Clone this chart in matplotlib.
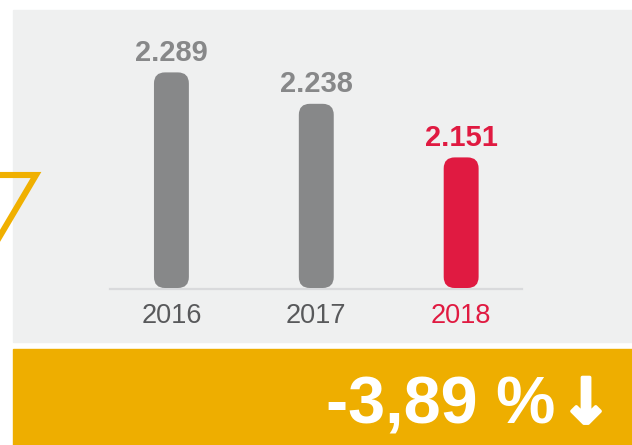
import matplotlib
matplotlib.use("Agg")
import numpy as np
import matplotlib.pyplot as plt
import matplotlib.patheffects as pe
from matplotlib.patches import Rectangle, FancyBboxPatch
from matplotlib.lines import Line2D

plt.rcParams['font.family'] = ['Liberation Sans', 'DejaVu Sans']

# data
years = ['2016', '2017', '2018']
values = [2289, 2238, 2151]
value_labels = ['2.289', '2.238', '2.151']
change_label = '-3,89 %'

GREY = '#878889'
RED = '#e01a41'
YEAR_GREY = '#58595b'
PANEL = '#eff0f0'
GOLD = '#eeae00'

W, H = 632, 445
fig = plt.figure(figsize=(W / 100, H / 100), dpi=100)

def fx(px):
    return px / W

def fy(py):
    return 1 - py / H

# background panel and bottom band (behind the axes)
fig.patches.append(Rectangle((fx(13), fy(342)), fx(632) - fx(13), fy(10) - fy(342),
                             transform=fig.transFigure, color=PANEL, zorder=-2))
fig.patches.append(Rectangle((fx(13), fy(445)), fx(632) - fx(13), fy(349) - fy(445),
                             transform=fig.transFigure, color=GOLD, zorder=-2))

# yellow corner outline on the left
fig.lines.append(Line2D([fx(-6), fx(36), fx(-6)], [fy(175), fy(175), fy(246)],
                        transform=fig.transFigure, color='#f0b000', lw=4.4,
                        solid_joinstyle='miter', zorder=-1))

# chart area
ax = fig.add_axes([fx(110), fy(289), fx(522) - fx(110), fy(10) - fy(289)])
ax.set_facecolor('none')
ax.axis('off')

floor = 1939
px_per_val = 0.616
ax.set_xlim(-0.424, 2.42)
ax.set_ylim(floor - 1 / px_per_val, floor - 1 / px_per_val + 279 / px_per_val)

x = np.arange(len(years))
colors = [GREY, GREY, RED]
bar_w = 0.241
bars = ax.bar(x, np.array(values) - floor, bottom=floor, width=bar_w, color=colors)

# swap plain bars for rounded ones
x_px = 412 / (2.42 + 0.424)
radius = 11 / x_px
aspect = (1 / px_per_val) / (1 / x_px)
for rect, c in zip(bars, colors):
    rect.set_visible(False)
    fb = FancyBboxPatch((rect.get_x(), rect.get_y()), rect.get_width(), rect.get_height(),
                        boxstyle=f"round,pad=0,rounding_size={radius}",
                        mutation_aspect=aspect, facecolor=c, edgecolor='none', zorder=3)
    ax.add_patch(fb)

# baseline
ax.plot([0, 1], [0, 0], transform=ax.transAxes, color='#d9dadc', lw=1.6,
        clip_on=False, zorder=2)

for xi, v, lbl, c in zip(x, values, value_labels, colors):
    ax.annotate(lbl, (xi, v), xytext=(0, 8.4), textcoords='offset points',
                ha='center', va='baseline', fontsize=21, fontweight='bold', color=c)

year_colors = [YEAR_GREY, YEAR_GREY, RED]
for xi, yr, c in zip(x, years, year_colors):
    ax.annotate(yr, (xi, 0), xycoords=('data', 'axes fraction'),
                xytext=(0, -24.7), textcoords='offset points',
                ha='center', va='baseline', fontsize=19.5, color=c)

# percentage change
fig.text(fx(555), fy(423), change_label, ha='right', va='baseline',
         fontsize=48, fontweight='bold', color='white')
fig.text(fx(586), fy(423), '\u2193', ha='center', va='baseline',
         fontsize=45, fontweight='heavy', color='white', family='DejaVu Sans',
         path_effects=[pe.withStroke(linewidth=2.5, foreground='white')])

fig.savefig('out.png', dpi=100, facecolor='white')
